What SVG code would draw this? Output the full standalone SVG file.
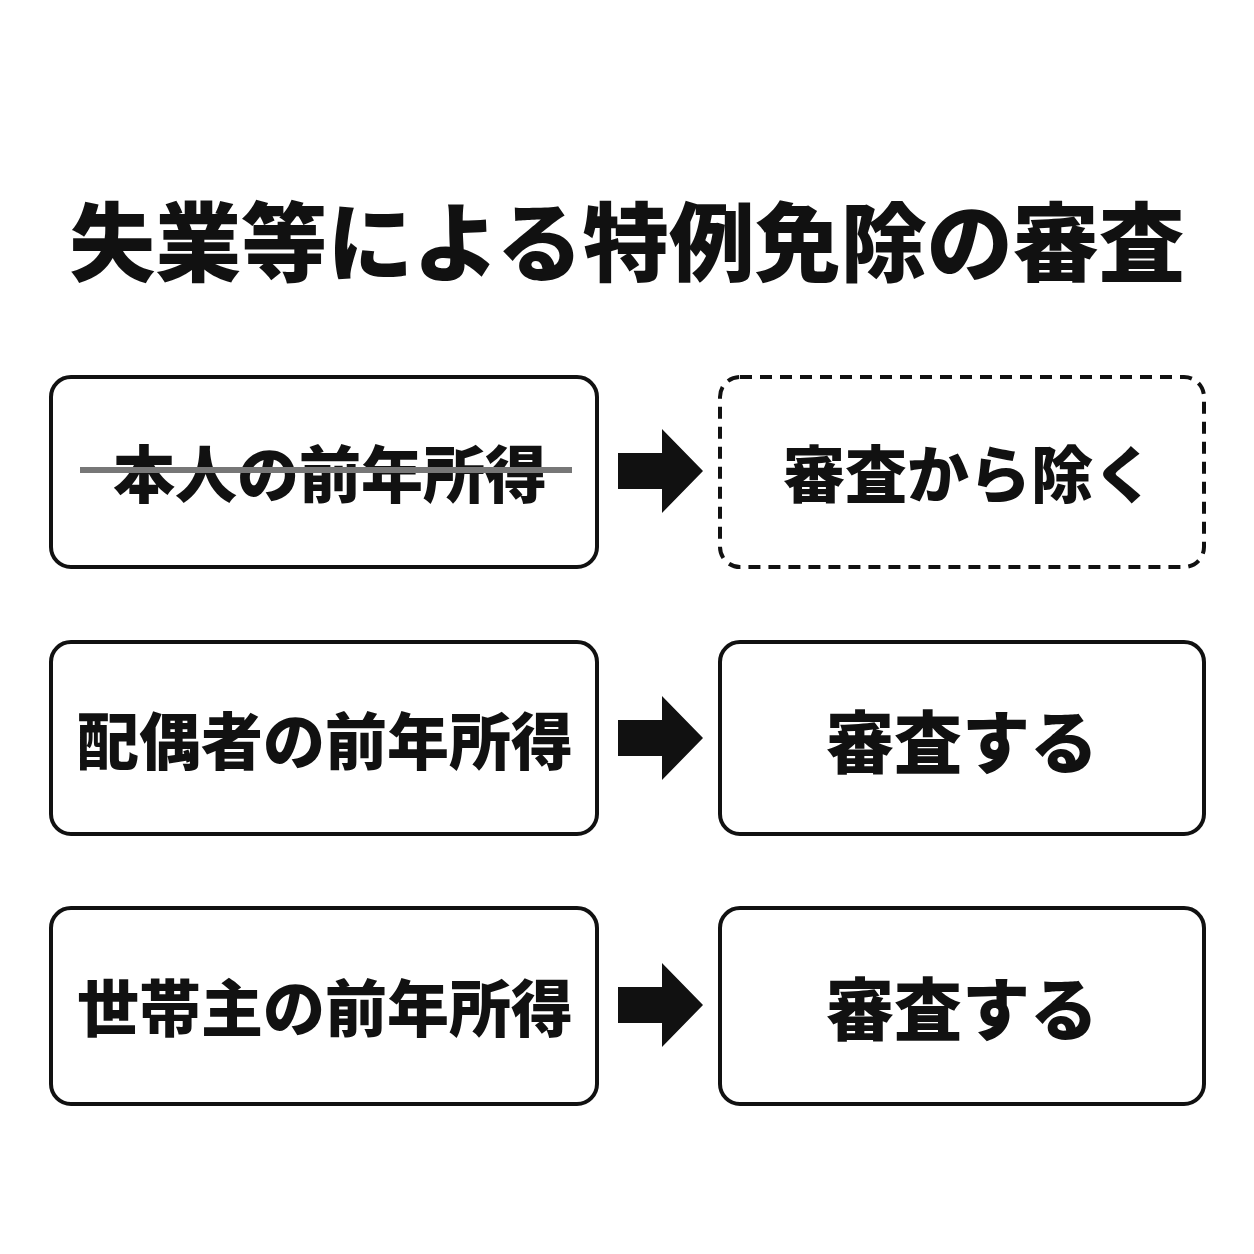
<svg xmlns="http://www.w3.org/2000/svg" width="1254" height="1254" viewBox="0 0 1254 1254">
<style>
text{font-family:"Noto Sans CJK JP","Noto Sans CJK SC",sans-serif;font-weight:900;fill:#111;text-anchor:middle;dominant-baseline:central}
.box{fill:#fff;stroke:#111;stroke-width:4}
.dash{stroke-dasharray:12 8}
.lbl{font-size:62px}
.big{font-size:68px}
.arr{fill:#111}
</style>
<rect width="1254" height="1254" fill="#fff"/>
<text x="627" y="237" style="font-size:86px">失業等による特例免除の審査</text>
<g id="n1"><rect class="box" x="51" y="377" width="546" height="190" rx="20"/><text class="lbl" x="330" y="471">本人の前年所得</text><line x1="80" y1="470" x2="572" y2="470" stroke="#777" stroke-width="6"/></g>
<g id="n2"><rect class="box dash" x="720" y="377" width="484" height="190" rx="20"/><text class="lbl" x="969" y="471">審査から除く</text></g>
<g id="n3"><rect class="box" x="51" y="642" width="546" height="192" rx="20"/><text class="lbl" x="325" y="738">配偶者の前年所得</text></g>
<g id="n4"><rect class="box" x="720" y="642" width="484" height="192" rx="20"/><text class="big" x="962" y="738">審査する</text></g>
<g id="n5"><rect class="box" x="51" y="908" width="546" height="196" rx="20"/><text class="lbl" x="325" y="1005">世帯主の前年所得</text></g>
<g id="n6"><rect class="box" x="720" y="908" width="484" height="196" rx="20"/><text class="big" x="962" y="1005">審査する</text></g>
<g id="connectors">
<polygon class="arr" points="618,453 662,453 662,429 703,471 662,513 662,489 618,489"/>
<polygon class="arr" points="618,720 662,720 662,696 703,738 662,780 662,756 618,756"/>
<polygon class="arr" points="618,987 662,987 662,963 703,1005 662,1047 662,1023 618,1023"/>
</g>
</svg>
